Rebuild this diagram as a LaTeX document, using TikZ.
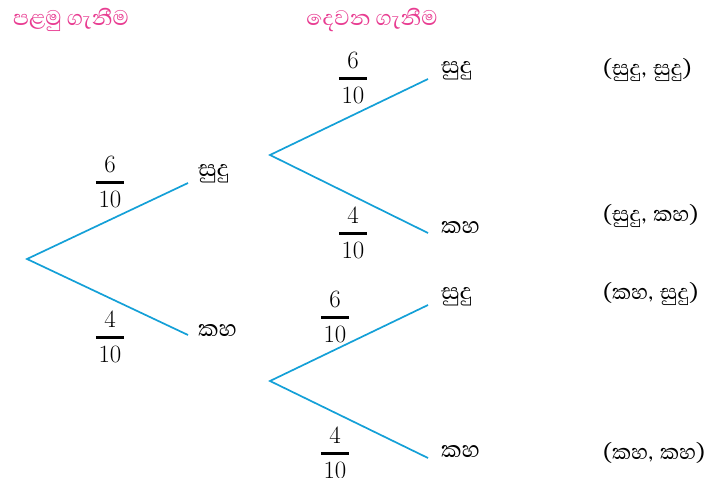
\documentclass[tikz,border=0pt]{standalone}
\usepackage{amsmath}
\usepackage{fontspec}
\newfontfamily\sinhfont[Script=Sinhala]{Abhaya Libre}
\definecolor{branch}{RGB}{20,160,215}
\definecolor{head}{RGB}{232,60,145}
\newcommand{\pfrac}[2]{$\genfrac{}{}{2.6pt}{0}{#1}{\mkern2mu#2\mkern2mu}$}
\newcommand{\csep}{,\hspace{7pt}}
\tikzset{
  br/.style={draw=branch, line width=1.7pt},
  lbl/.style={font=\sinhfont\fontsize{29}{31}\selectfont, inner sep=0pt, anchor=west},
  hd/.style={font=\sinhfont\fontsize{27}{29}\selectfont, text=head, inner sep=0pt},
  fr/.style={font=\fontsize{26}{29}\selectfont, inner sep=0pt},
  oc/.style={font=\sinhfont\fontsize{27}{29}\selectfont, inner sep=0pt, anchor=west},
}
\begin{document}
\begin{tikzpicture}[x=1pt,y=-1pt]
\useasboundingbox (0,0) rectangle (709,478);
% headers
\node[hd] (h1) at (71,20) {පළමු ගැනීම};
\node[hd] (h2) at (372,20) {දෙවන ගැනීම};
% first stage
\coordinate (r0) at (27,259);
\coordinate (a1) at (188,183);
\coordinate (a2) at (188,335);
\draw[br] (a1) -- (r0) -- (a2);
\node[lbl] (l1) at (198,174) {සුදු};
\node[lbl] (l2) at (198,331) {කහ};
\node[fr] (f1) at (110,182) {\pfrac{6}{10}};
\node[fr] (f2) at (110,337) {\pfrac{4}{10}};
% second stage upper
\coordinate (r1) at (270,155);
\coordinate (b1) at (428,79);
\coordinate (b2) at (428,233);
\draw[br] (b1) -- (r1) -- (b2);
\node[lbl] (l3) at (441,71) {සුදු};
\node[lbl] (l4) at (441,228) {කහ};
\node[fr] (f3) at (353,78) {\pfrac{6}{10}};
\node[fr] (f4) at (353,233) {\pfrac{4}{10}};
% second stage lower
\coordinate (r2) at (270,381);
\coordinate (c1) at (428,305);
\coordinate (c2) at (428,458);
\draw[br] (c1) -- (r2) -- (c2);
\node[lbl] (l5) at (441,297) {සුදු};
\node[lbl] (l6) at (441,452) {කහ};
\node[fr] (f5) at (335,317) {\pfrac{6}{10}};
\node[fr] (f6) at (335,453) {\pfrac{4}{10}};
% outcomes
\node[oc] (o1) at (603,70) {(සුදු\csep සුදු)};
\node[oc] (o2) at (603,216) {(සුදු\csep කහ)};
\node[oc] (o3) at (603,294) {(කහ\csep සුදු)};
\node[oc] (o4) at (603,453) {(කහ\csep කහ)};
\end{tikzpicture}
\end{document}
